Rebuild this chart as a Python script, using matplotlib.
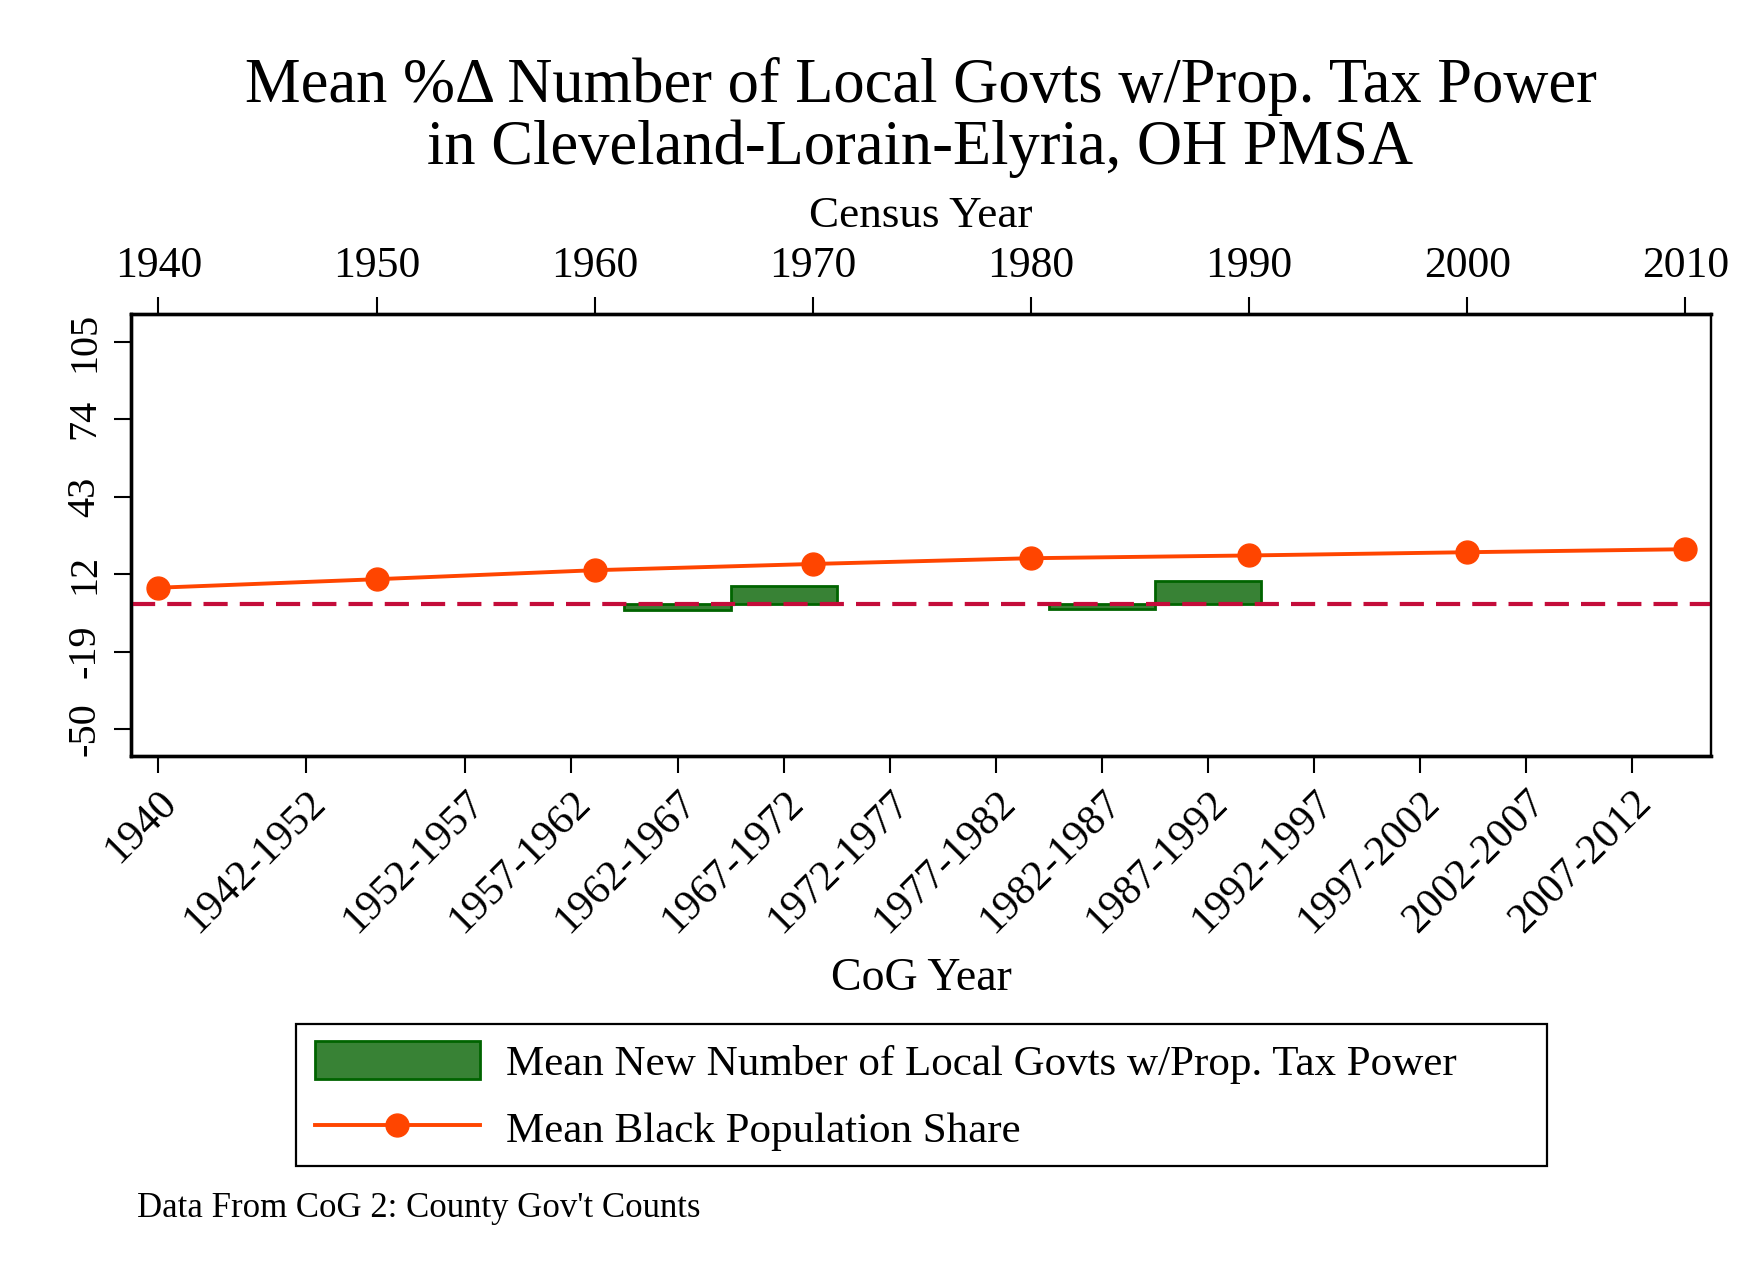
import numpy as np
import matplotlib
matplotlib.use('Agg')
import matplotlib.pyplot as plt
from matplotlib.patches import Rectangle

# serif font, close to the Stata Times look
plt.rcParams['font.family'] = ['Liberation Serif', 'DejaVu Serif']

# top axis: census years and mean black population share
census_years = [1940, 1950, 1960, 1970, 1980, 1990, 2000, 2010]
black_share = [6.6, 10.0, 13.6, 16.1, 18.4, 19.5, 20.8, 22.0]

# bottom axis: CoG periods and mean new number of local govts w/ prop. tax power
cog_labels = ['1940', '1942-1952', '1952-1957', '1957-1962', '1962-1967',
              '1967-1972', '1972-1977', '1977-1982', '1982-1987', '1987-1992',
              '1992-1997', '1997-2002', '2002-2007', '2007-2012']
new_govts = [np.nan, np.nan, np.nan, np.nan, -2.4, 7.3, np.nan, np.nan,
             -2.0, 9.3, np.nan, np.nan, np.nan, np.nan]

y_ticks = [-50, -19, 12, 43, 74, 105]


def period_mid(lab):
    parts = [float(p) for p in lab.split('-')]
    return sum(parts) / len(parts)


cog_pos = np.array([period_mid(l) for l in cog_labels])
new_govts = np.array(new_govts)

BAR_FILL = '#388235'
BAR_EDGE = '#006400'
LINE_COL = '#FF4500'
ZERO_COL = '#C40C3A'

fig = plt.figure(figsize=(17.58, 12.78), dpi=100)
ax = fig.add_axes([0.0745, 0.4085, 0.899, 0.3458])

# bars on the CoG (bottom) axis
ok = ~np.isnan(new_govts)
bars = ax.bar(cog_pos[ok], new_govts[ok], width=5, color=BAR_FILL,
              edgecolor=BAR_EDGE, linewidth=2, zorder=2)
ax.axhline(0, color=ZERO_COL, lw=3, linestyle=(0, (5.8, 2.9)), zorder=3)

ax.set_xlim(1938.74, 2013.23)
ax.set_ylim(-60.7, 116.1)
ax.set_xticks(cog_pos)
ax.set_xticklabels(cog_labels, rotation=45, ha='right', rotation_mode='anchor')
ax.set_yticks(y_ticks)
ax.set_yticklabels([str(v) for v in y_ticks], rotation=90, va='center')
ax.tick_params(axis='x', direction='out', length=12, width=1.5, pad=8,
               labelsize=30.5)
ax.tick_params(axis='y', direction='out', length=12, width=1.5, pad=8,
               labelsize=29)
ax.set_xlabel('CoG Year', fontsize=33, labelpad=12)

# line on the census (top) axis
ax2 = ax.twiny()
line, = ax2.plot(census_years, black_share, color=LINE_COL, lw=2.8,
                 marker='o', markersize=16.5, zorder=4)
ax2.set_xlim(1938.74, 2011.2)
ax2.set_xticks(census_years)
ax2.tick_params(axis='x', direction='out', length=12, width=1.5, pad=8,
                labelsize=31.5)
ax2.set_xlabel('Census Year', fontsize=32.5, labelpad=14)

for a in (ax, ax2):
    for s in a.spines.values():
        s.set_linewidth(2.4)
        s.set_color('black')
    a.spines['right'].set_linewidth(1.6)

fig.text(0.5236, 0.9082,
         'Mean %\u0394 Number of Local Govts w/Prop. Tax Power\n'
         'in Cleveland-Lorain-Elyria, OH PMSA',
         ha='center', va='center', fontsize=45, linespacing=1.07)

# legend with a Stata-style box
fig.add_artist(Rectangle((296 / 1758, 1 - 1166 / 1278), 1251 / 1758, 142 / 1278,
                         transform=fig.transFigure, fill=False,
                         edgecolor='black', linewidth=1.6))
fig.legend([bars, line],
           ['Mean New Number of Local Govts w/Prop. Tax Power',
            'Mean Black Population Share'],
           loc='upper left', bbox_to_anchor=(0.1792, 0.1855),
           frameon=False, fontsize=31, handlelength=3.82, handleheight=1.0,
           handletextpad=0.62, borderpad=0, borderaxespad=0, labelspacing=0.56,
           numpoints=1)

fig.text(0.078, 0.054, "Data From CoG 2: County Gov't Counts",
         ha='left', va='center', fontsize=25)

fig.savefig('out.png', dpi=100, facecolor='white')
